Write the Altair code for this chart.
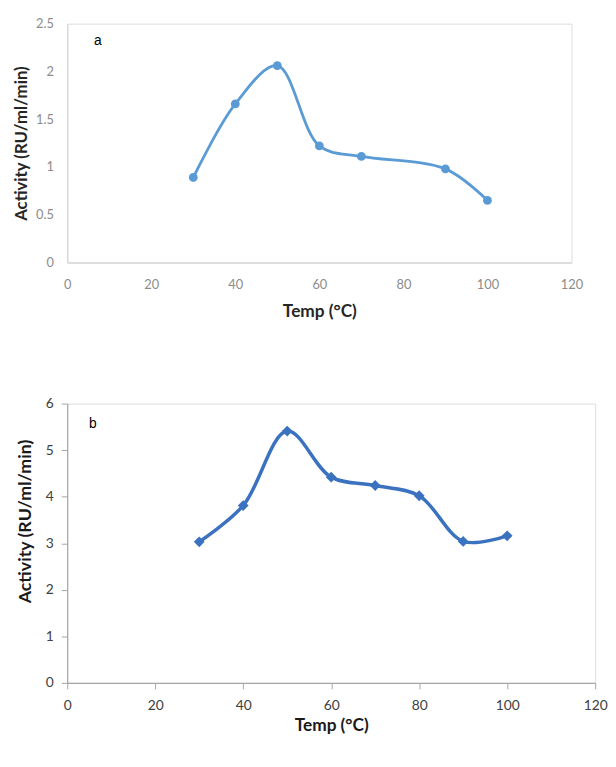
import altair as alt
import pandas as pd

# Panel a
temps_a = [30, 40, 50, 60, 70, 90, 100]
act_a = [0.89, 1.66, 2.06, 1.22, 1.11, 0.98, 0.65]
# Panel b
temps_b = [30, 40, 50, 60, 70, 80, 90, 100]
act_b = [3.03, 3.81, 5.41, 4.42, 4.24, 4.02, 3.04, 3.16]

x_ticks = [0, 20, 40, 60, 80, 100, 120]
y_ticks_a = [0, 0.5, 1, 1.5, 2, 2.5]
y_ticks_b = [0, 1, 2, 3, 4, 5, 6]

label_a = {"x": [7.3], "y": [2.32], "t": ["a"]}
label_b = {"x": [5.8], "y": [5.57], "t": ["b"]}

df_a = pd.DataFrame({"temp": temps_a, "act": act_a})
df_b = pd.DataFrame({"temp": temps_b, "act": act_b})

FONT = "Lato"
XT = "Temp (°C)"
YT = "Activity (RU/ml/min)"

col_a = "#5b9bd5"
col_b = "#3a72c0"

xa = alt.X("temp:Q", scale=alt.Scale(domain=[0, 120], nice=False),
           axis=alt.Axis(values=x_ticks, title=XT, ticks=False, grid=False, labelFlush=False,
                         domainColor="#d9d9d9", domainWidth=1.5,
                         labelColor="#8c8c8c", labelFontSize=13, labelFont=FONT,
                         labelPadding=16, titleFont=FONT, titleFontSize=17.5,
                         titleFontWeight="bold", titleColor="#262626", titlePadding=12))
ya = alt.Y("act:Q", scale=alt.Scale(domain=[0, 2.5], nice=False),
           axis=alt.Axis(values=y_ticks_a, format="~g", title=YT, ticks=False, grid=False,
                         domainColor="#d9d9d9", domainWidth=1.5,
                         labelColor="#8c8c8c", labelFontSize=13, labelFont=FONT,
                         labelPadding=14, titleFont=FONT, titleFontSize=17,
                         titleFontWeight="bold", titleColor="#262626", titlePadding=5))

line_a = alt.Chart(df_a).mark_line(color=col_a, strokeWidth=2.8, interpolate="catmull-rom").encode(x=xa, y=ya)
pts_a = alt.Chart(df_a).mark_point(color=col_a, filled=True, opacity=1, size=80, shape="circle").encode(x="temp:Q", y="act:Q")
txt_a = alt.Chart(pd.DataFrame(label_a)).mark_text(font="Liberation Sans", fontSize=14, color="black").encode(
    x="x:Q", y="y:Q", text="t:N")
chart_a = alt.layer(line_a, pts_a, txt_a).properties(width=511, height=242)

xb = alt.X("temp:Q", scale=alt.Scale(domain=[0, 120], nice=False),
           axis=alt.Axis(values=x_ticks, title=XT, ticks=True, tickSize=6, tickColor="#a6a6a6",
                         grid=False, labelFlush=False, domainColor="#a6a6a6", domainWidth=1.2,
                         labelColor="#404040", labelFontSize=14, labelFont=FONT,
                         labelPadding=10, titleFont=FONT, titleFontSize=17.5,
                         titleFontWeight="bold", titleColor="#1a1a1a", titlePadding=4))
yb = alt.Y("act:Q", scale=alt.Scale(domain=[0, 6], nice=False),
           axis=alt.Axis(values=y_ticks_b, title=YT, ticks=True, tickSize=6, tickColor="#a6a6a6",
                         grid=False, domainColor="#a6a6a6", domainWidth=1.2,
                         labelColor="#404040", labelFontSize=14, labelFont=FONT,
                         labelPadding=8, titleFont=FONT, titleFontSize=18,
                         titleFontWeight="bold", titleColor="#1a1a1a", titlePadding=11,
                         titleY=119))

line_b = alt.Chart(df_b).mark_line(color=col_b, strokeWidth=3.5, interpolate="catmull-rom").encode(x=xb, y=yb)
pts_b = alt.Chart(df_b).mark_point(color=col_b, filled=True, opacity=1, size=120, shape="diamond").encode(x="temp:Q", y="act:Q")
txt_b = alt.Chart(pd.DataFrame(label_b)).mark_text(font="Liberation Sans", fontSize=14, color="black").encode(
    x="x:Q", y="y:Q", text="t:N")
chart_b = alt.layer(line_b, pts_b, txt_b).properties(width=535, height=283)

chart = alt.vconcat(chart_a, chart_b, spacing=76).properties(
    padding={"left": 4, "top": 4, "right": 0, "bottom": 0}
).configure_view(stroke=None).configure(background="white")

chart.save("out.html", embed_options={"renderer": "svg", "actions": False})
